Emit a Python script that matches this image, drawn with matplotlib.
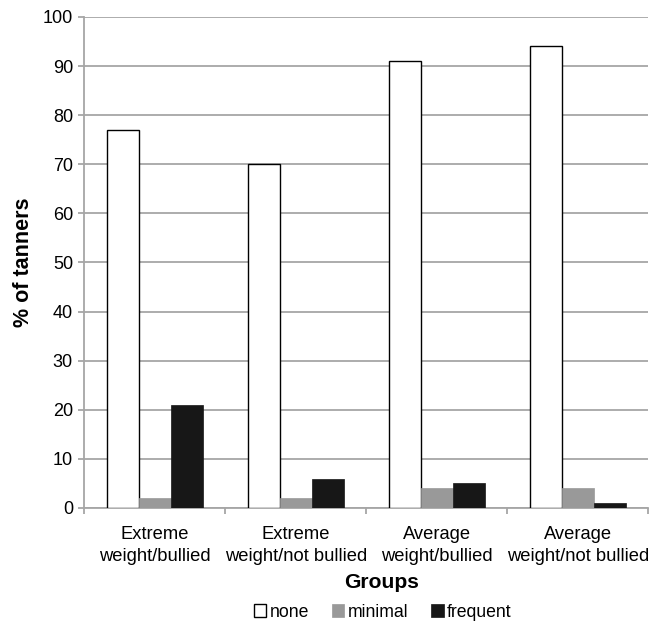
import matplotlib
matplotlib.use("Agg")
import matplotlib.pyplot as plt
import numpy as np

plt.rcParams['font.family'] = ['Liberation Sans', 'DejaVu Sans']

groups = ["Extreme\nweight/bullied", "Extreme\nweight/not bullied",
          "Average\nweight/bullied", "Average\nweight/not bullied"]
series_names = ["none", "minimal", "frequent"]
none_vals = [77, 70, 91, 94]
minimal_vals = [2, 2, 4, 4]
frequent_vals = [21, 6, 5, 1]
yticks = [0, 10, 20, 30, 40, 50, 60, 70, 80, 90, 100]

fig = plt.figure(figsize=(6.6, 6.26), dpi=100)
ax = fig.add_axes([0.128, 0.1885, 0.854, 0.7845])

x = np.arange(len(groups))
w = 0.227
grid_c = "#a6a6a6"
b1 = ax.bar(x - w, none_vals, w, color="white", edgecolor="black", linewidth=1.0, zorder=3, label="none")
b2 = ax.bar(x, minimal_vals, w, color="#999999", edgecolor="#999999", linewidth=0.5, zorder=3, label="minimal")
b3 = ax.bar(x + w, frequent_vals, w, color="#171717", edgecolor="#171717", linewidth=0.5, zorder=3, label="frequent")

ax.set_xlim(-0.5, len(groups) - 0.5)
ax.set_ylim(0, 100)
ax.set_yticks(yticks)
ax.yaxis.grid(True, color=grid_c, linewidth=1.3, zorder=0)
ax.set_axisbelow(True)

ax.set_xticks(x)
ax.set_xticklabels(groups, fontsize=13.2, linespacing=1.4)
ax.set_xticks(np.arange(-0.5, len(groups)), minor=True)
ax.tick_params(axis='x', which='major', length=0, pad=13)
ax.tick_params(axis='x', which='minor', length=4, color=grid_c, width=1.3)
ax.tick_params(axis='y', length=4.3, color=grid_c, width=1.3, labelsize=13, pad=4)

for s in ["top", "right"]:
    ax.spines[s].set_visible(False)
for s in ["left", "bottom"]:
    ax.spines[s].set_color(grid_c)
    ax.spines[s].set_linewidth(1.3)

ax.set_ylabel("% of tanners", fontsize=15.5, fontweight="bold", va="center")
ax.yaxis.set_label_coords(-0.108, 0.5)
ax.set_xlabel("Groups", fontsize=15.2, fontweight="bold", va="center")
ax.xaxis.set_label_coords(0.5275, -0.1507)

fig.legend(handles=[b1, b2, b3], labels=series_names, loc="center",
           bbox_to_anchor=(0.58, 0.022), ncol=3, frameon=False, fontsize=12.7,
           handlelength=0.7, handleheight=0.7, handletextpad=0.2, columnspacing=1.3,
           borderpad=0, borderaxespad=0)

fig.savefig("out.png", dpi=100)
